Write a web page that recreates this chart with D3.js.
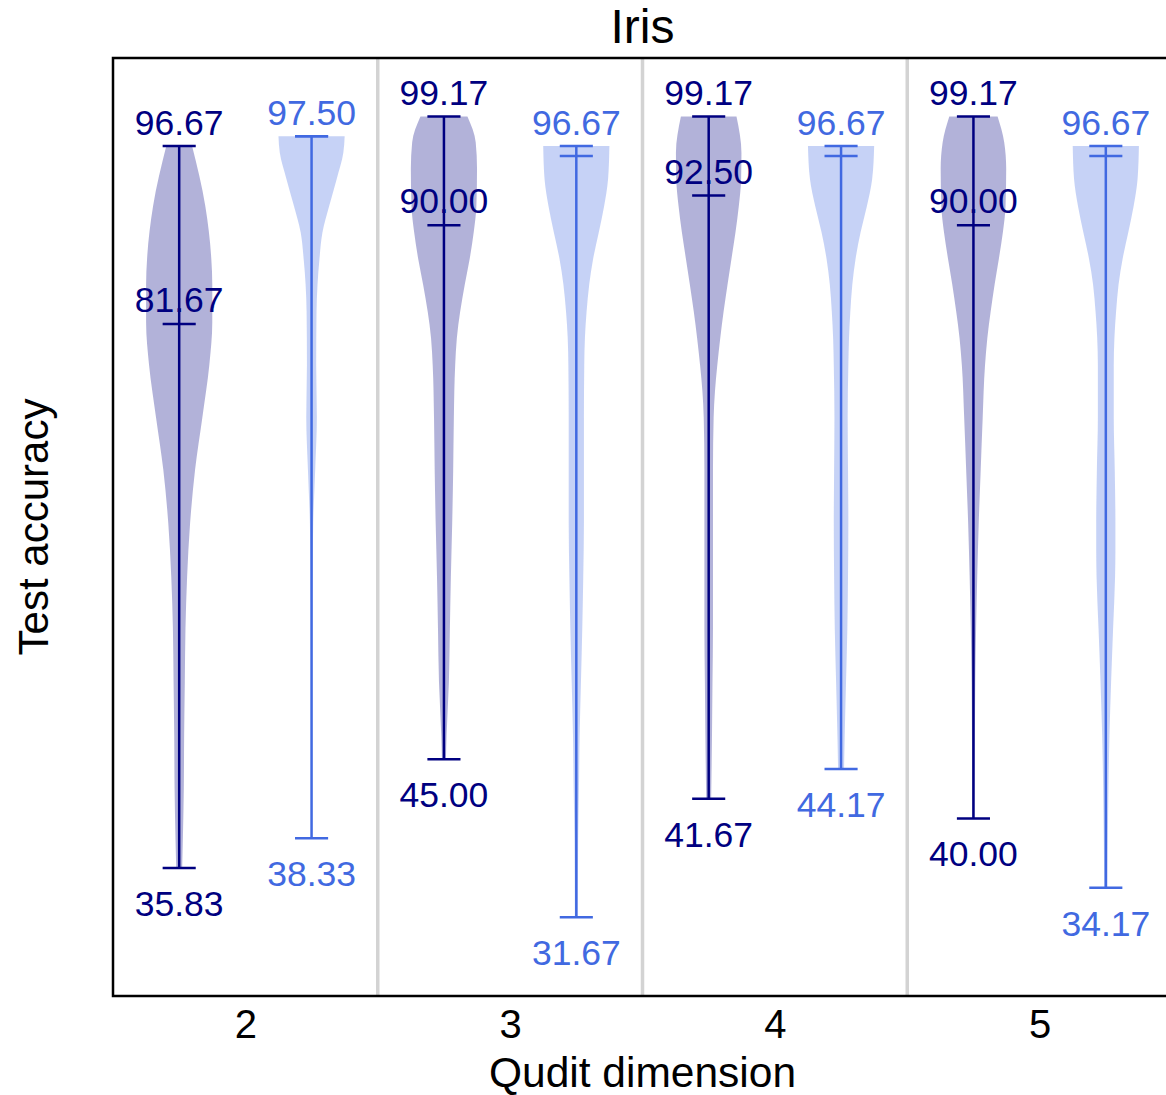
<!DOCTYPE html>
<html>
<head>
<meta charset="utf-8">
<script src="https://cdn.jsdelivr.net/npm/d3@7"></script>
<style>
  html, body { margin: 0; padding: 0; background: #fff; }
  svg { display: block; font-family: "Liberation Sans", Arial, Helvetica, sans-serif; }
</style>
</head>
<body>
<svg id="chart" width="1166" height="1095"></svg>
<script>
// Qudit dimensions on the x axis
const dims = ["2", "3", "4", "5"];

// Summary statistics of test accuracy (%) per dimension
const darkMax    = [96.67, 99.17, 99.17, 99.17];
const darkMedian = [81.67, 90.00, 92.50, 90.00];
const darkMin    = [35.83, 45.00, 41.67, 40.00];
const lightMax    = [97.50, 96.67, 96.67, 96.67];
const lightMedian = [97.50, 95.83, 95.83, 95.83];
const lightMin    = [38.33, 31.67, 44.17, 34.17];

// Kernel density profiles: [accuracy, relative density], one per dimension
const darkDensity = [
  [[96.67,0.39],[91.6,0.79],[87.2,0.97],[85.0,1.0],[81.8,1.0],[78.2,0.91],[73.8,0.70],[69.4,0.48],[64.9,0.33],[60.4,0.24],[56.0,0.19],[51.5,0.17],[47.0,0.15],[42.6,0.14],[38.1,0.11],[35.83,0.09]],
  [[99.17,0.71],[97.0,0.96],[94.75,1.0],[91.6,0.98],[89.4,0.9],[87.2,0.78],[85.0,0.63],[82.7,0.49],[80.5,0.39],[78.2,0.34],[73.8,0.30],[69.4,0.28],[64.9,0.25],[60.4,0.21],[56.0,0.18],[51.5,0.15],[47.0,0.08],[45.0,0.06]],
  [[99.17,0.84],[96.1,0.99],[93.9,0.98],[91.6,0.91],[89.4,0.81],[87.2,0.69],[85.0,0.57],[82.7,0.45],[80.5,0.35],[78.2,0.26],[76.0,0.19],[73.8,0.15],[69.4,0.13],[64.9,0.13],[60.4,0.13],[56.0,0.13],[51.5,0.115],[47.0,0.10],[41.67,0.075]],
  [[99.17,0.73],[97.0,0.93],[94.75,0.99],[91.6,0.97],[89.4,0.89],[87.2,0.77],[85.0,0.64],[82.7,0.52],[80.5,0.42],[78.2,0.35],[73.8,0.28],[69.4,0.22],[64.9,0.16],[60.4,0.115],[56.0,0.08],[51.5,0.055],[47.0,0.045],[40.0,0.03]]
];
const lightDensity = [
  [[97.5,1.0],[96.1,0.96],[93.9,0.76],[91.6,0.53],[89.4,0.33],[87.2,0.24],[85.0,0.18],[82.7,0.15],[78.2,0.14],[73.8,0.16],[69.4,0.11],[64.9,0.05],[58.4,0.025],[50.0,0.015],[38.33,0.012]],
  [[96.67,1.0],[93.9,0.96],[91.6,0.84],[89.4,0.68],[87.2,0.51],[85.0,0.39],[82.7,0.31],[80.5,0.26],[78.2,0.24],[73.8,0.23],[69.4,0.23],[64.9,0.23],[60.4,0.21],[56.0,0.18],[51.5,0.14],[47.0,0.10],[42.6,0.08],[38.1,0.055],[31.67,0.045]],
  [[96.67,1.0],[93.9,0.94],[91.6,0.78],[89.4,0.59],[87.2,0.44],[85.0,0.34],[82.7,0.28],[80.5,0.24],[78.2,0.22],[73.8,0.20],[69.4,0.21],[64.9,0.22],[60.4,0.21],[56.0,0.19],[51.5,0.15],[47.0,0.11],[44.17,0.09]],
  [[96.67,1.0],[93.9,0.96],[91.6,0.84],[89.4,0.68],[87.2,0.51],[85.0,0.385],[82.7,0.31],[80.5,0.26],[78.2,0.24],[73.8,0.24],[69.4,0.27],[64.9,0.29],[62.6,0.29],[60.4,0.28],[56.0,0.22],[51.5,0.16],[47.0,0.11],[42.6,0.08],[38.1,0.06],[34.17,0.05]]
];

const series = [
  { color: "#000080", fill: "rgba(0,0,128,0.3)", offset: -0.25,
    max: darkMax, median: darkMedian, min: darkMin, density: darkDensity, labelMedian: true },
  { color: "#4169E1", fill: "rgba(65,105,225,0.3)", offset: 0.25,
    max: lightMax, median: lightMedian, min: lightMin, density: lightDensity, labelMedian: false }
];

const svg = d3.select("#chart");
const plot = { left: 113, right: 1172, top: 58, bottom: 996 };

const x = d3.scaleLinear().domain([-0.5, dims.length - 0.5]).range([plot.left, plot.right]);
const y = d3.scaleLinear().domain([25.04, 104.09]).range([plot.bottom, plot.top]);

const violinWidth = 0.25;          // full width in category units
const capHalf = violinWidth / 4;   // caps span half the violin width

// group separators
svg.append("g").selectAll("line")
  .data(d3.range(dims.length - 1))
  .join("line")
  .attr("x1", i => x(i + 0.5)).attr("x2", i => x(i + 0.5))
  .attr("y1", plot.top).attr("y2", plot.bottom)
  .attr("stroke", "#d3d3d3").attr("stroke-width", 3.5);

// violins
series.forEach(s => {
  const g = svg.append("g");
  s.density.forEach((prof, i) => {
    const cx = i + s.offset;
    const area = d3.area()
      .y(d => y(d[0]))
      .x0(d => x(cx - d[1] * violinWidth / 2))
      .x1(d => x(cx + d[1] * violinWidth / 2))
      .curve(d3.curveMonotoneY);
    g.append("path").attr("d", area(prof)).attr("fill", s.fill);
  });
});

// whiskers, caps and medians
series.forEach(s => {
  const g = svg.append("g").attr("stroke", s.color).attr("stroke-width", 2.5);
  dims.forEach((d, i) => {
    const cx = i + s.offset;
    g.append("line").attr("x1", x(cx)).attr("x2", x(cx))
      .attr("y1", y(s.min[i])).attr("y2", y(s.max[i]));
    [s.min[i], s.max[i], s.median[i]].forEach(v => {
      g.append("line")
        .attr("x1", x(cx - capHalf)).attr("x2", x(cx + capHalf))
        .attr("y1", y(v)).attr("y2", y(v));
    });
  });
});

// value labels
series.forEach(s => {
  const g = svg.append("g").attr("fill", s.color)
    .attr("font-size", "35.5px").attr("text-anchor", "middle");
  dims.forEach((d, i) => {
    const cx = x(i + s.offset);
    g.append("text").attr("x", cx).attr("y", y(s.max[i]) - 11).text(s.max[i].toFixed(2));
    g.append("text").attr("x", cx).attr("y", y(s.min[i]) + 48).text(s.min[i].toFixed(2));
    if (s.labelMedian) {
      g.append("text").attr("x", cx).attr("y", y(s.median[i]) - 12).text(s.median[i].toFixed(2));
    }
  });
});

// frame
svg.append("rect")
  .attr("x", plot.left).attr("y", plot.top)
  .attr("width", plot.right - plot.left).attr("height", plot.bottom - plot.top)
  .attr("fill", "none").attr("stroke", "#000").attr("stroke-width", 2.5);

// x axis tick labels
const xAxis = d3.axisBottom(x)
  .tickValues(d3.range(dims.length))
  .tickFormat(i => dims[i])
  .tickSize(0).tickPadding(14);
const ax = svg.append("g").attr("transform", `translate(0,${plot.bottom})`).call(xAxis);
ax.select(".domain").remove();
ax.selectAll("text").attr("font-size", "40px").attr("fill", "#000")
  .attr("font-family", "Liberation Sans, Arial, sans-serif");

// titles
svg.append("text").attr("x", (plot.left + plot.right) / 2).attr("y", 43)
  .attr("text-anchor", "middle").attr("font-size", "48px").text("Iris");
svg.append("text").attr("x", (plot.left + plot.right) / 2).attr("y", 1087)
  .attr("text-anchor", "middle").attr("font-size", "42.5px").text("Qudit dimension");
svg.append("text")
  .attr("transform", `translate(48,${(plot.top + plot.bottom) / 2}) rotate(-90)`)
  .attr("text-anchor", "middle").attr("font-size", "42px").text("Test accuracy");
</script>
</body>
</html>
